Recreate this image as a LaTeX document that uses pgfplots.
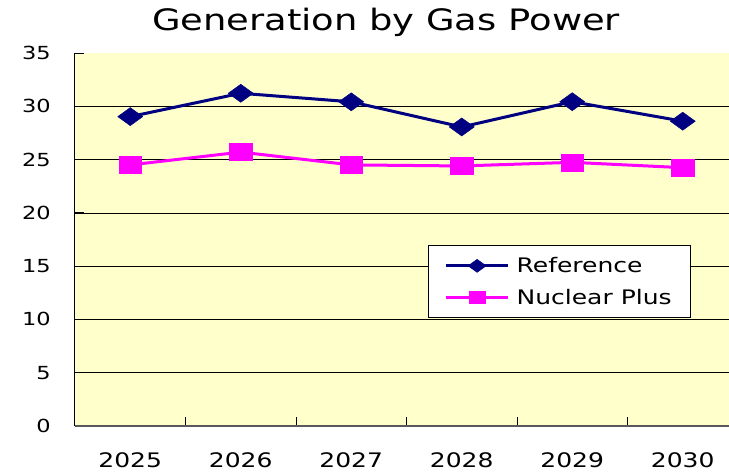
\documentclass[border=0pt]{standalone}
\usepackage{pgfplots}
\pgfplotsset{compat=1.18}
\usepackage{fontspec}
\setmainfont{DejaVu Sans}[FakeStretch=1.25]
\definecolor{bgy}{HTML}{FFFFCC}
\definecolor{navyc}{HTML}{000080}
\definecolor{magc}{HTML}{FF00FF}
\pgfplotstableread{
x ref nuc
0 29.03 24.50
1 31.22 25.70
2 30.42 24.50
3 28.06 24.40
4 30.43 24.74
5 28.60 24.24
}\gasdata
\begin{document}
\begin{tikzpicture}
\useasboundingbox (0,0) rectangle (729pt,472pt);
\node[anchor=base, inner sep=0pt, font=\fontsize{29.5}{34}\selectfont] at (386pt,441pt) {Generation by Gas Power};
\begin{axis}[
  at={(75pt,46pt)}, anchor=south west,
  scale only axis, width=663pt, height=373pt,
  xmin=-0.5, xmax=5.5, ymin=0, ymax=35,
  axis lines*=left,
  axis background/.style={fill=bgy},
  x axis line style={draw=gray!70!black, line width=1.5pt},
  y axis line style={draw=black, line width=1pt},
  xtick={0,...,5},
  xticklabels={2025,2026,2027,2028,2029,2030},
  major x tick style={draw=none},
  minor xtick={0.5,1.5,2.5,3.5,4.5},
  minor x tick style={draw=black, line width=0.8pt},
  minor tick length=9pt,
  ytick={0,5,...,30},
  extra y ticks={35},
  extra y tick style={grid=none},
  major tick length=9pt,
  tick align=inside,
  y tick style={draw=black, line width=0.8pt},
  ymajorgrids,
  major grid style={draw=black, line width=0.7pt},
  /pgf/number format/assume math mode=true,
  xticklabel style={font=\fontsize{20}{24}\selectfont, anchor=base, inner sep=0pt, yshift=-41pt},
  yticklabel style={font=\fontsize{18}{22}\selectfont, anchor=east, inner sep=0pt, xshift=-24pt},
  legend style={
    at={(0.532,0.485)}, anchor=north west,
    draw=black, line width=0.8pt, fill=white,
    font=\fontsize{20}{24}\selectfont,
    inner xsep=16.5pt, inner ysep=10pt, row sep=11pt,
    cells={anchor=west},
    /tikz/every odd column/.append style={column sep=5pt},
  },
  legend image code/.code={
    \draw[#1, mark repeat=2, mark phase=2, every mark/.append style={scale=0.72}] plot coordinates {(0pt,0pt) (31pt,0pt) (62pt,0pt)};
  },
  clip=false,
]
\addplot[color=navyc, line width=3pt, mark=diamond*, mark size=9pt,
  mark options={xscale=1.85, solid, fill=navyc, line width=0.5pt}]
  table[x=x, y=ref] {\gasdata};
\addlegendentry{Reference}
\addplot[color=magc, line width=3pt, mark=square*, mark size=8.5pt,
  mark options={xscale=1.35, solid, fill=magc, line width=0.5pt}]
  table[x=x, y=nuc] {\gasdata};
\addlegendentry{Nuclear Plus}
\end{axis}
\end{tikzpicture}
\end{document}
